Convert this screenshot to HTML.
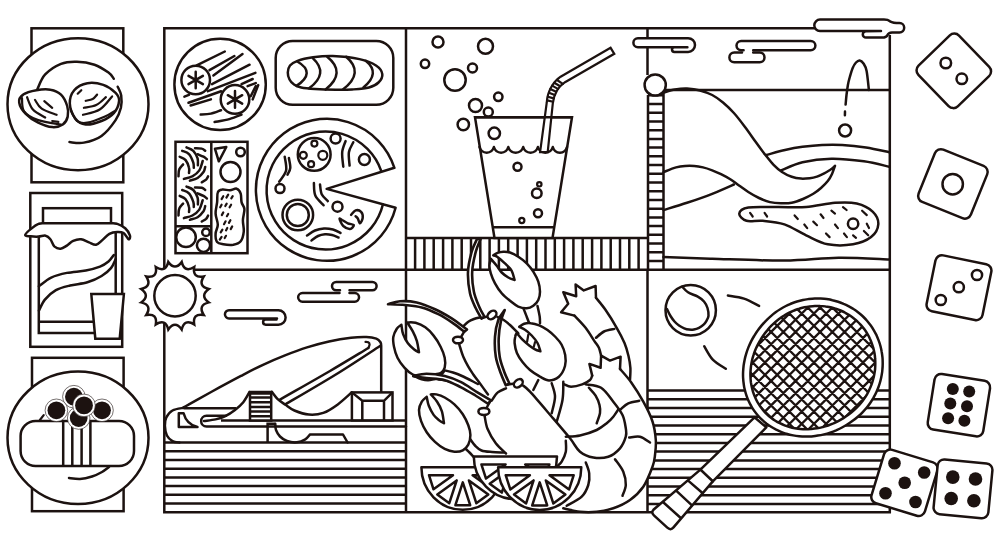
<!DOCTYPE html>
<html>
<head>
<meta charset="utf-8">
<title>Line art</title>
<style>
html,body{margin:0;padding:0;background:#fff;font-family:"Liberation Sans",sans-serif;}
svg{display:block;}
.s{fill:none;stroke:#1c1210;stroke-width:2.5;stroke-linecap:round;stroke-linejoin:round;}
.m{fill:none;stroke:#1c1210;stroke-width:2.5;stroke-linecap:butt;stroke-linejoin:miter;}
.t{fill:none;stroke:#1c1210;stroke-width:2.2;stroke-linecap:round;stroke-linejoin:round;}
.w{fill:#fff;stroke:#1c1210;stroke-width:2.5;stroke-linecap:round;stroke-linejoin:round;}
.wm{fill:#fff;stroke:#1c1210;stroke-width:2.5;stroke-linecap:butt;stroke-linejoin:miter;}
.wt{fill:#fff;stroke:#1c1210;stroke-width:2.6;stroke-linecap:round;stroke-linejoin:round;}
.k{fill:#1c1210;stroke:none;}
</style>
</head>
<body>
<svg width="1000" height="540" viewBox="0 0 1000 540">
<rect x="0" y="0" width="1000" height="540" fill="#fff"/>
<!-- left plate 1 : clams -->
<g id="plate1">
<rect class="wm" x="31.5" y="28.3" width="91.8" height="154"/>
<ellipse class="w" cx="78" cy="104.2" rx="70.5" ry="66"/>
<path class="s" d="M37.3 89.3 C38.6 86.8 41.2 78.6 45.2 74.4 C49.2 70.1 55.8 65.9 61 63.8 C66.3 61.7 71.3 61.5 76.9 61.7 C82.4 61.8 89.2 62.9 94.5 64.7 C99.7 66.5 105.3 70.3 108.5 72.6 C111.8 74.9 112.9 77.7 113.8 78.8"/>
<path class="s" d="M69.5 142.1 C71.9 142.2 78.6 143.7 83.9 142.6 C89.2 141.6 96.2 139.7 101.5 135.9 C106.8 132.2 112.4 124.8 115.6 120.1 C118.8 115.4 119.9 111.9 120.9 107.8 C121.8 103.7 121.7 99 121.2 95.5 C120.7 92 118.3 88.1 117.7 86.7"/>
<path class="w" d="M19.2 102.5 C18.7 99.3 20.3 96.6 23.2 94.6 C26.1 92.5 31.8 91 36.4 90.2 C40.9 89.4 46.4 88.9 50.5 89.7 C54.6 90.4 58.2 91.9 61 94.6 C63.8 97.3 66.1 102.4 67.2 106 C68.3 109.7 68.4 113.5 67.7 116.6 C67 119.7 65.4 122.7 62.8 124.5 C60.2 126.3 56.3 127.4 52.2 127.1 C48.1 126.9 42.6 124.9 38.2 122.7 C33.8 120.5 29 117.3 25.8 113.9 C22.7 110.6 19.6 105.7 19.2 102.5Z"/>
<path class="t" d="M22 98.1 C22.3 100.3 21.4 107.6 24.1 111.3 C26.8 115 32 117.9 38.2 120.1 C44.3 122.3 57.2 123.8 61 124.5"/>
<path class="t" d="M27.1 97.2 C28 99.3 29.9 106.2 32.9 109.5 C35.9 112.9 43.1 116.1 45.2 117.5"/>
<path class="t" d="M35 99.9 C36.1 101.3 38.1 106.2 41.7 108.7 C45.3 111.2 54.1 113.8 56.6 114.8"/>
<path class="t" d="M44.3 101.1 L52.2 107.8"/>
<path class="t" d="M52.2 121 L58.4 121.9"/>
<path class="w" d="M69.8 103.4 C69.7 98.7 71.3 93.6 74.2 90.2 C77.2 86.8 82.6 84 87.4 83.2 C92.3 82.3 98.6 83.3 103.3 84.9 C108 86.5 112.9 90.2 115.6 92.8 C118.2 95.5 119.4 97.4 119.1 100.8 C118.8 104.1 116.8 109.7 113.8 113.1 C110.9 116.4 106.2 119.1 101.5 121 C96.8 122.9 90.1 124.9 85.7 124.5 C81.3 124.1 77.7 121.9 75.1 118.3 C72.5 114.8 70 108.1 69.8 103.4Z"/>
<path class="t" d="M70.7 109.5 C71.7 111.5 74.1 118.8 76.9 121 C79.7 123.2 82.7 123.5 87.4 122.7 C92.1 122 100.3 118.6 105 116.6 C109.7 114.5 113.8 111.5 115.6 110.4"/>
<path class="t" d="M77.7 93.7 L81.3 90.2"/>
<path class="t" d="M85.7 100.8 C86.8 100.5 90.8 100 92.7 99 C94.6 98 96.4 95.3 97.1 94.6"/>
<path class="t" d="M83.9 107.8 C86 107.3 92.6 106.9 96.2 105.1 C99.9 103.4 104.3 98.6 105.9 97.2"/>
<path class="t" d="M83 114.8 C85.8 113.9 94.9 112.6 99.7 109.5 C104.6 106.5 110 98.6 112.1 96.4"/>
</g>
<!-- left jar -->
<g id="jar">
<rect class="wm" x="30.3" y="193" width="91.9" height="153.8"/>
<rect class="wm" x="43" y="208.2" width="68" height="16"/>
<path class="m" d="M38.8 232 V333 H96 M38.8 321.7 H93 M115.7 230 V294"/>
<path class="s" d="M38.9 286.2 C41 284.8 46.5 279.8 51.2 277.6 C55.9 275.4 61.1 274.1 66.9 272.9 C72.7 271.7 80.3 271.6 85.8 270.5 C91.3 269.4 96.2 268.1 100 266.6 C103.8 265.1 106.2 263.4 108.5 261.5 C110.8 259.6 112.9 256.1 113.8 255"/>
<path class="s" d="M38.9 310.6 C39.9 308.8 42.1 303 44.9 299.6 C47.7 296.2 51.7 292.6 55.9 290.2 C60.1 287.8 64.8 286.8 70.1 285.5 C75.3 284.2 82.2 283.9 87.4 282.3 C92.7 280.7 97.7 278.4 101.6 276 C105.5 273.6 108.7 270.9 111 268.1 C113.3 265.3 114.9 260.5 115.7 259"/>
<path class="w" d="M25.2 235 C25.2 233.8 28.5 230.9 30.7 229.1 C33 227.2 36 224.8 38.6 223.9 C41.2 222.9 39.9 223.3 46.5 223.2 C53 223.1 67.5 223.2 78 223.2 C88.4 223.2 102.9 223.1 109.4 223.2 C116 223.3 114.7 223 117.3 223.9 C119.9 224.7 123.1 226.4 125.2 228.3 C127.3 230.2 129.3 233.5 129.9 235.4 C130.5 237.2 129.7 239.7 128.6 239.3 C127.6 238.9 125.5 234.2 123.6 233 C121.7 231.8 119.7 231.8 117.3 231.9 C114.9 232 111.9 232.4 109.4 233.8 C106.9 235.2 104.6 238.2 102.3 240.1 C100.1 241.9 98.3 244.4 96.1 244.8 C93.8 245.2 91.5 243.4 89 242.4 C86.5 241.5 83.7 239.6 81.1 239.3 C78.5 239 75.6 239.8 73.2 240.9 C70.9 241.9 69 244.3 66.9 245.6 C64.8 246.9 62.7 248.6 60.6 248.7 C58.5 248.9 56.1 248 54.3 246.4 C52.6 244.8 51.9 241.1 50.4 239.3 C49 237.5 47.7 236.1 45.7 235.7 C43.7 235.2 41.1 236.5 38.6 236.6 C36.1 236.7 33 236.6 30.7 236.3 C28.5 236 25.2 236.3 25.2 235Z"/>
<path class="wm" d="M91.3 294.1 H123.9 L119.7 338.7 H95.3 Z"/>
</g>
<!-- left plate 3 : sushi -->
<g id="plate3">
<rect class="wm" x="32" y="357.8" width="91.6" height="153.4"/>
<ellipse class="w" cx="78" cy="437.8" rx="70.5" ry="66.2"/>
<rect class="w" x="20.6" y="421" width="113.4" height="45" rx="15" ry="15"/>
<path class="m" d="M63.2 421 V466 M72.3 421 V466 M81.6 421 V466 M90.4 421 V466"/>
<path class="t" d="M39.9 420 L43.7 415.1"/>
<path class="s" d="M69 478 C70.8 478.2 76.2 479.2 80 479 C83.8 478.8 88.3 477.7 92 476.5 C95.7 475.3 99.2 473.6 102 472 C104.8 470.4 107.8 467.8 109 467"/>
<circle cx="73.9" cy="396.7" r="11.3" fill="#fff" stroke="#1c1210" stroke-width="0.6"/>
<circle class="k" cx="73.9" cy="396.7" r="8.9"/>
<circle cx="78.7" cy="418" r="11.3" fill="#fff" stroke="#1c1210" stroke-width="0.6"/>
<circle class="k" cx="78.7" cy="418" r="8.9"/>
<circle cx="102" cy="410.3" r="11.3" fill="#fff" stroke="#1c1210" stroke-width="0.6"/>
<circle class="k" cx="102" cy="410.3" r="8.9"/>
<circle cx="56.4" cy="410.3" r="11.3" fill="#fff" stroke="#1c1210" stroke-width="0.6"/>
<circle class="k" cx="56.4" cy="410.3" r="8.9"/>
<circle cx="84" cy="405.4" r="11.3" fill="#fff" stroke="#1c1210" stroke-width="0.6"/>
<circle class="k" cx="84" cy="405.4" r="8.9"/>
</g>
<!-- stripe fields -->
<g id="stripes">
<path class="m" d="M164.3 503.5 H406 M164.3 494.8 H406 M164.3 486.1 H406 M164.3 477.4 H406 M164.3 468.7 H406 M164.3 460 H406 M164.3 451.3 H406 M164.3 442.6 H406"/>
<path class="m" d="M647.5 390.6 H889.8 M647.5 399.3 H889.8 M647.5 408 H889.8 M647.5 416.8 H889.8 M647.5 425.5 H889.8 M647.5 434.2 H889.8 M647.5 442.9 H889.8 M647.5 451.6 H889.8 M647.5 460.4 H889.8 M647.5 469.1 H889.8 M647.5 477.8 H889.8 M647.5 486.5 H889.8 M647.5 495.2 H889.8 M647.5 504 H889.8"/>
<path class="m" d="M406 238 H648 M415.1 238 V269.7 M424.4 238 V269.7 M433.7 238 V269.7 M443.1 238 V269.7 M452.4 238 V269.7 M461.7 238 V269.7 M471 238 V269.7 M480.3 238 V269.7 M489.6 238 V269.7 M498.9 238 V269.7 M508.2 238 V269.7 M517.6 238 V269.7 M526.9 238 V269.7 M536.2 238 V269.7 M545.5 238 V269.7 M554.8 238 V269.7 M564.1 238 V269.7 M573.4 238 V269.7 M582.7 238 V269.7 M592.1 238 V269.7 M601.4 238 V269.7 M610.7 238 V269.7 M620 238 V269.7 M629.3 238 V269.7 M638.6 238 V269.7"/>
<path class="m" d="M648 95 V269.7 M663.5 93 V269.7 M648 261 H663.5 M648 252.3 H663.5 M648 243.5 H663.5 M648 234.8 H663.5 M648 226.1 H663.5 M648 217.4 H663.5 M648 208.7 H663.5 M648 199.9 H663.5 M648 191.2 H663.5 M648 182.5 H663.5 M648 173.8 H663.5 M648 165.1 H663.5 M648 156.3 H663.5 M648 147.6 H663.5 M648 138.9 H663.5 M648 130.2 H663.5 M648 121.5 H663.5 M648 112.7 H663.5 M648 104 H663.5 M648 95.3 H663.5"/>
<circle class="w" cx="655.2" cy="85" r="10.6"/>
</g>
<!-- main frame -->
<g id="frame">
<path class="m" d="M815 28.2 H164.3 V512.2 H889.8 V35"/>
<path class="m" d="M406 28.2 V512.2"/>
<path class="m" d="M195 269.7 H889.8"/>
<path class="m" d="M647.5 28.2 V75 M647.5 269.7 V512.2"/>
</g>
<!-- sun -->
<g id="sun">
<path class="wm" d="M168.3 261.9 Q175 271.2 181.7 261.9 Q184.4 273.1 194.2 267 Q192.3 278.4 203.7 276.5 Q197.6 286.3 208.8 289 Q199.5 295.7 208.8 302.4 Q197.6 305.1 203.7 314.9 Q192.3 313 194.2 324.4 Q184.4 318.3 181.7 329.5 Q175 320.2 168.3 329.5 Q165.6 318.3 155.8 324.4 Q157.7 313 146.3 314.9 Q152.4 305.1 141.2 302.4 Q150.5 295.7 141.2 289 Q152.4 286.3 146.3 276.5 Q157.7 278.4 155.8 267 Q165.6 273.1 168.3 261.9 Z" stroke-linejoin="miter"/>
<circle class="w" cx="175" cy="295.7" r="20.7"/>
</g>
<!-- top-left: cucumber plate -->
<g id="cuke">
<circle class="w" cx="220.1" cy="84.4" r="45.7"/>
<path class="s" d="M196.7 65.3 L224.8 51.5"/>
<path class="s" d="M209.5 70.2 L234.4 56"/>
<path class="s" d="M213.4 75.5 L242.5 54.1"/>
<path class="s" d="M212 84.1 L249.6 64.7"/>
<path class="s" d="M207.9 91.2 L255.4 72.9"/>
<path class="s" d="M184.4 96.7 L188.9 94.9"/>
<path class="s" d="M188.5 102.8 L221.1 91.2"/>
<path class="s" d="M190.6 105.5 L210.9 99.4"/>
<path class="s" d="M241.5 84.1 L252.7 79"/>
<path class="s" d="M247.6 86.1 L255.8 83.1"/>
<path class="s" d="M250.7 96.3 L255.8 86.1"/>
<path class="s" d="M252.7 99.4 L258.2 85.1"/>
<path class="s" d="M200.7 114.6 C202.4 114.5 207.5 114.4 210.9 113.6 C214.3 112.9 219.4 110.7 221.1 110.2"/>
<path class="s" d="M214.6 122 C217 121.5 224.8 120.4 229.3 119.1 C233.8 117.9 239.5 115.4 241.5 114.6"/>
<circle class="w" cx="195.7" cy="80" r="14.3"/>
<path class="s" d="M195.7 88.3 L195.7 71.7 M188.5 84.2 L202.9 75.8 M188.5 75.8 L202.9 84.2"/>
<circle class="w" cx="235" cy="99.4" r="14.3"/>
<path class="s" d="M235 107.7 L235 91.1 M227.8 103.6 L242.2 95.2 M227.8 95.2 L242.2 103.6"/>
</g>
<!-- top-left: bread -->
<g id="bread">
<rect class="w" x="275.7" y="41" width="117.6" height="63.8" rx="17" ry="17"/>
<path class="w" d="M287.8 72.5 C287.9 70.2 288.4 67.5 290 65.5 C291.6 63.5 293.7 62.2 297.5 60.8 C301.3 59.4 307.1 58.1 313 57.3 C318.9 56.5 324.9 55.7 332.7 56 C340.4 56.3 352.3 57.5 359.5 59.1 C366.7 60.7 372.2 63 376 65.5 C379.8 68 381.9 71.3 382.3 74.1 C382.7 76.9 380.7 80.3 378.5 82.5 C376.3 84.7 373.4 86.3 369 87.5 C364.6 88.7 357.5 89.1 352 89.5 C346.5 89.9 342 89.9 335.8 89.8 C329.6 89.7 320.8 89.4 315 89 C309.2 88.6 304.7 88.2 301.2 87.5 C297.7 86.8 295.9 85.8 294 84.5 C292.1 83.2 290.5 81.5 289.5 79.5 C288.5 77.5 287.7 74.8 287.8 72.5Z"/>
<path class="s" d="M297.3 61.5 Q316.5 72.5 296.5 85.9"/>
<path class="s" d="M313 58.3 Q329.2 73.3 309.1 88.3"/>
<path class="s" d="M327.2 56.8 Q346.8 72.5 325.6 89.5"/>
<path class="s" d="M346.1 56.8 Q364.9 72.5 342.9 89.5"/>
<path class="s" d="M365.8 60.7 Q381 73.3 363.4 87.5"/>
</g>
<!-- top-left: bento -->
<g id="bento">
<rect class="wm" x="175.5" y="141.8" width="72" height="111.4"/>
<path class="m" d="M211.3 141.8 V253.2 M175.5 226.3 H211.3"/>
<circle class="s" cx="186" cy="237.3" r="9.8"/>
<circle class="s" cx="206" cy="232.3" r="3.8"/>
<circle class="s" cx="203.5" cy="245.3" r="6.6"/>
<path class="s" d="M215 148.8 L226.3 147 L218.8 161.3 Z"/>
<circle class="s" cx="240.5" cy="152" r="4.3"/>
<circle class="s" cx="230.5" cy="172" r="10"/>
<path class="s" d="M217.8 192.4 C218.6 190.3 220.2 189.9 222.2 189.6 C224.3 189.2 227.6 190.4 230 190.2 C232.4 190.1 234.9 188.1 236.7 188.7 C238.4 189.2 239.9 191.3 240.7 193.6 C241.5 195.9 240.9 199.9 241.6 202.4 C242.2 205 244.2 206.1 244.4 209.1 C244.7 212.1 243 216.5 242.9 220.2 C242.8 223.9 244.1 227.8 243.8 231.3 C243.4 234.9 242.4 239.1 240.7 241.3 C238.9 243.6 236.2 244.2 233.3 244.7 C230.4 245.1 226 244.7 223.3 244.2 C220.6 243.8 218.4 243.8 217.1 242 C215.8 240.2 215.4 236.4 215.6 233.6 C215.7 230.7 217.8 228 217.8 224.7 C217.8 221.3 215.7 217.3 215.6 213.6 C215.4 209.9 216.7 206 217.1 202.4 C217.5 198.9 216.9 194.6 217.8 192.4Z"/>
<path class="t" d="M223.3 196.2 L221.6 199.1"/>
<path class="t" d="M228.2 194.7 L226.4 197.6"/>
<path class="t" d="M232.7 196.2 L231.3 198.4"/>
<path class="t" d="M221.6 204.7 L220.2 207.3"/>
<path class="t" d="M226.7 203.6 L225.3 206"/>
<path class="t" d="M231.1 204.7 L229.6 207.3"/>
<path class="t" d="M223.3 212.4 L221.8 215.1"/>
<path class="t" d="M228.2 214 L226.9 216.2"/>
<path class="t" d="M225.6 221.3 L224 224.2"/>
<path class="t" d="M230.4 220.2 L228.9 222.9"/>
<path class="t" d="M222.4 229.6 L220.7 232.4"/>
<path class="t" d="M227.3 228 L226 230.4"/>
<path class="t" d="M232.2 226.4 L230.7 229.1"/>
<path class="t" d="M221.6 236.9 L219.8 239.6"/>
<path class="t" d="M226 235.8 L224.7 238"/>
<path class="s" d="M182.2 150.8 C183.4 151.3 187.2 152.2 189 154.2 C190.9 156.2 192.5 160.4 193.3 162.7 C194.1 165 193.7 167 193.8 167.8"/>
<path class="s" d="M186.5 147.4 C187.6 147.9 191.4 148.9 193.3 150.8 C195.1 152.6 196.8 156 197.6 158.4 C198.3 160.9 197.8 164.1 197.9 165.3"/>
<path class="s" d="M195 148.2 C196.1 148.3 200.1 148.1 201.8 148.6 C203.5 149 204.7 150.4 205.2 150.8"/>
<path class="s" d="M179.7 156.7 C180.7 157.3 184.1 158.3 185.6 160.1 C187.2 162 188.5 165.7 189 167.8 C189.6 169.9 189 172.1 189 172.9"/>
<path class="s" d="M197.6 154.2 C198.5 154.6 202 155.9 203.5 156.7 C205.1 157.6 206.4 158.9 206.9 159.3"/>
<path class="s" d="M178.5 176.3 C178.6 175.2 178.4 171.5 179.2 169.5 C179.9 167.5 182.4 165.3 183.1 164.4"/>
<path class="s" d="M183.9 178.9 C185.3 178.5 189.9 177.8 192.4 176.3 C195 174.9 197.6 172.9 199.3 170.4 C201 167.8 202.1 162.6 202.7 161"/>
<path class="s" d="M189.9 180.6 C191.2 180.2 195.3 179.5 197.6 178 C199.8 176.6 202.2 173.9 203.5 172.1 C204.8 170.2 204.9 167.8 205.2 167"/>
<path class="s" d="M201.8 182.3 C202.5 181.9 205 180.7 206.1 179.7 C207.1 178.7 207.8 176.9 208.1 176.3"/>
<path class="s" d="M182.2 190 C183.4 190.5 187.2 191.4 189 193.4 C190.9 195.4 192.5 199.6 193.3 201.9 C194.1 204.2 193.7 206.1 193.8 207"/>
<path class="s" d="M186.5 186.6 C187.6 187.1 191.4 188.1 193.3 190 C195.1 191.8 196.8 195.2 197.6 197.6 C198.3 200 197.8 203.3 197.9 204.4"/>
<path class="s" d="M195 187.4 C196.1 187.5 200.1 187.3 201.8 187.7 C203.5 188.2 204.7 189.6 205.2 190"/>
<path class="s" d="M179.7 195.9 C180.7 196.5 184.1 197.5 185.6 199.3 C187.2 201.2 188.5 204.9 189 207 C189.6 209.1 189 211.3 189 212.1"/>
<path class="s" d="M197.6 193.4 C198.5 193.8 202 195.1 203.5 195.9 C205.1 196.8 206.4 198.1 206.9 198.5"/>
<path class="s" d="M178.5 215.5 C178.6 214.4 178.4 210.7 179.2 208.7 C179.9 206.7 182.4 204.4 183.1 203.6"/>
<path class="s" d="M183.9 218.1 C185.3 217.6 189.9 216.9 192.4 215.5 C195 214.1 197.6 212.1 199.3 209.6 C201 207 202.1 201.7 202.7 200.2"/>
<path class="s" d="M189.9 219.8 C191.2 219.3 195.3 218.6 197.6 217.2 C199.8 215.8 202.2 213.1 203.5 211.3 C204.8 209.4 204.9 207 205.2 206.1"/>
<path class="s" d="M201.8 221.5 C202.5 221 205 219.9 206.1 218.9 C207.1 217.9 207.8 216.1 208.1 215.5"/>
</g>
<!-- top-left: pizza -->
<g id="pizza">
<path class="w" d="M326.7 188.9 L394.4 167.8 A71 71 0 1 0 395.6 207.8 Z"/>
<path class="s" d="M381.3 171.1 A59 59 0 1 0 382.9 204.5"/>
<circle class="s" cx="314.2" cy="154.4" r="16.4"/>
<circle class="t" cx="314.4" cy="143.6" r="3"/>
<circle class="t" cx="303.3" cy="155.3" r="3.5"/>
<circle class="t" cx="322.8" cy="155.3" r="4.5"/>
<circle class="t" cx="311.1" cy="164.2" r="3"/>
<circle class="s" cx="335.6" cy="138.6" r="5"/>
<circle class="s" cx="364.4" cy="159.4" r="5.5"/>
<circle class="s" cx="280" cy="188.6" r="4.5"/>
<circle class="s" cx="337.5" cy="206.7" r="5"/>
<circle class="s" cx="297.8" cy="215" r="15.3"/>
<circle class="s" cx="297.8" cy="215" r="11"/>
<path class="s" d="M345.6 141.1 C345 142.9 342.6 147.9 342.2 152.2 C341.8 156.5 343.1 164.3 343.3 166.7"/>
<path class="s" d="M353.3 142.2 C352.6 143.9 349.5 148.3 348.9 152.2 C348.3 156.1 349.5 163.4 349.6 165.6"/>
<path class="s" d="M284.7 156.7 C284.9 159 287 166.4 286.1 170.6 C285.2 174.8 280.4 179.8 279.2 181.7"/>
<path class="s" d="M288.9 158 C289.1 159.6 290.5 165 290.3 167.8 C290.1 170.6 288 173.5 287.5 174.7"/>
<path class="s" d="M313.9 183 C314.1 185.1 313.7 191.9 315.3 195.6 C316.9 199.3 322.2 203.7 323.6 205.3"/>
<path class="s" d="M320 184.4 C320.3 186 320.4 191.4 321.7 194.2 C323 197 326.8 199.9 327.8 201.1"/>
<path class="s" d="M307 235.5 C308.3 234.7 312.2 231.7 315 230.5 C317.8 229.3 321 228.7 324 228.5 C327 228.3 330.2 228.8 333 229.5 C335.8 230.2 339.2 232.4 340.5 233"/>
<path class="s" d="M311.5 240.5 C312.6 239.8 315.8 237 318 236 C320.2 235 322.7 234.5 325 234.3 C327.3 234.1 329.8 234.5 332 235 C334.2 235.5 337.4 237.1 338.5 237.5"/>
<path class="s" d="M351.1 214.9 C351.9 214.1 353.9 211 355.6 210.4 C357.2 209.9 359.9 210.6 361.1 211.8 C362.3 213 362.9 215.9 362.7 217.8 C362.5 219.7 360.8 223.2 360 223.3 C359.2 223.4 358.5 219.6 357.8 218.4 C357 217.3 355.9 216.6 355.6 216.2"/>
<path class="s" d="M339.6 218.9 C339.7 219.9 341.6 224.3 343.3 226 C345.1 227.7 348.3 229 350 228.9 C351.7 228.7 354.1 226 353.8 225.1 C353.4 224.2 349.7 224.2 347.8 223.3 C345.9 222.5 343.6 220.7 342.2 220 C340.9 219.3 339.4 217.9 339.6 218.9Z"/>
</g>
<!-- bottom-left: building -->
<g id="building">
<path class="s" d="M183.6 407.4 C185.8 406.1 191.1 403.1 197 399.8 C202.9 396.5 211.7 391.7 219 387.7 C226.3 383.7 233.7 379.7 241 375.9 C248.3 372.1 255.7 368.2 263 364.8 C270.3 361.4 277.7 358.3 285 355.4 C292.3 352.5 299.7 349.7 307 347.4 C314.3 345.1 321.7 343.1 329 341.5 C336.3 339.9 344.8 338.5 351 337.8 C357.2 337.1 362.2 337 366.4 337.1 C370.6 337.2 373.9 337.8 376.3 338.6 C378.7 339.5 379.7 341 380.5 342.2 C381.3 343.4 381.1 345.4 381.2 346 L381.2 392.4"/>
<path class="t" d="M365.5 341.9 C365.9 341.9 367.5 341.8 368.2 342.2 C368.9 342.6 369.6 343.5 369.6 344.5 C369.6 345.5 368.6 347.4 368.4 348"/>
<path class="s" d="M368.4 348 C362 351.8 344.7 362.4 330 371 C315.3 379.6 288.3 394.8 280 399.6"/>
<path class="s" d="M380 346 C372.5 350.8 350.8 365.3 335 375 C319.2 384.7 293.8 399.4 285.5 404.3"/>
<path class="s" d="M271.8 391.8 C272.8 393.1 275.7 397.2 278 399.4 C280.3 401.6 282.8 402.9 285.5 404.8 C288.2 406.7 290.5 408.9 294.4 410.5 C298.3 412.1 304.1 414.2 308.9 414.6 C313.7 415 318.5 414.6 323.3 412.9 C328.1 411.2 333.1 407.8 337.8 404.4 C342.5 401 349.4 394.4 351.7 392.4"/>
<path class="s" d="M183.6 407.8 C181.8 408.2 175.4 408.9 172.5 410.5 C169.6 412.1 167.6 414.9 166.3 417.5 C165 420.1 164.8 422.8 164.9 425.8 C165 428.8 165.6 432.9 166.9 435.5 C168.2 438.1 170.4 439.9 172.5 441.1 C174.6 442.3 178.2 442.3 179.4 442.5"/>
<path class="m" d="M183.6 408.3 H236"/>
<path class="s" d="M183.6 413.3 H178.8 V427 H197.5 Q186.5 424.5 183.6 413.3 Z"/>
<path class="s" d="M249.5 392 C248.5 393.7 245.7 399.2 243.3 402.2 C240.9 405.2 238 407.6 235 409.9 C232 412.2 228.5 414.5 225.3 416.1 C222.1 417.7 219.2 418.6 215.6 419.4 C212 420.2 205.9 420.7 204 421"/>
<path class="s" d="M226 415.8 H206.5 A5.35 5.35 0 0 0 206.5 426.5 H406"/>
<path class="m" d="M221 420.5 H406"/>
<rect class="wm" x="250" y="392" width="21.2" height="28.5"/>
<path class="m" d="M250 393.6 H271.2 M250 397.6 H271.2 M250 402.2 H271.2 M250 407 H271.2 M250 411.6 H271.2 M250 416.2 H271.2"/>
<rect class="wm" x="351.9" y="392.4" width="40.6" height="28"/>
<path class="m" d="M351.9 392.4 L362.3 400.8 H384 L392.5 392.4 M362.3 400.8 V420.4 M384 400.8 V420.4"/>
<path class="m" d="M267.6 442.5 V423.8 H275.3"/>
<path class="s" d="M275.3 423.8 C275.4 424.8 275.2 427.9 276 430 C276.8 432.1 278.2 434.7 280 436.5 C281.8 438.3 284.2 440 287 441 C289.8 442 293.8 442.6 296.9 442.3 C299.9 442 303.1 440.6 305.3 439.3 C307.5 438 309.2 435.3 310 434.5 L343 434.5 L347.6 442.5"/>
</g>
<!-- bottom-left: clouds -->
<g id="blclouds">
<path class="s" d="M277 318.4 H229 A4.05 4.05 0 0 1 229 310.3 H278.4 A7.2 7.2 0 0 1 278.4 324.7 H265.7 A2.6 2.6 0 0 1 265.7 319.5 H276.5"/>
<path class="s" d="M340 290.3 H336.2 A4.2 4.2 0 0 1 336.2 281.9 H372.4 A4.2 4.2 0 0 1 372.4 290.3 H349.5"/>
<path class="s" d="M339.5 293 H302.5 A4.35 4.35 0 0 0 302.5 301.7 H354.7 A4.35 4.35 0 0 0 354.7 293 H349.5"/>
</g>
<!-- top-middle: drink -->
<g id="drink">
<circle class="s" cx="438" cy="42" r="5.5"/>
<circle class="s" cx="485.5" cy="46.3" r="7.5"/>
<circle class="s" cx="425" cy="63.8" r="4.2"/>
<circle class="s" cx="472.5" cy="68" r="4.5"/>
<circle class="s" cx="455" cy="80" r="10.7"/>
<circle class="s" cx="498.3" cy="96.8" r="4.2"/>
<circle class="s" cx="475.5" cy="105.5" r="6.5"/>
<circle class="s" cx="488.3" cy="112" r="4.5"/>
<circle class="s" cx="463.3" cy="124.5" r="5.7"/>
<path class="wm" d="M475 117.3 H572 L552.5 238 H494.5 Z"/>
<path class="m" d="M493 227.2 H554.2"/>
<circle class="s" cx="494.3" cy="133.3" r="5.7"/>
<circle class="s" cx="517.5" cy="166.8" r="4"/>
<circle class="s" cx="536.8" cy="193.3" r="4.8"/>
<circle class="s" cx="538" cy="213.3" r="4"/>
<circle class="t" cx="539.3" cy="184.3" r="2.2"/>
<circle cx="521.8" cy="220.5" r="2.6" fill="none" stroke="#1c1210" stroke-width="2.2"/>
<path class="s" d="M479.5 147 C481.7 154.5 491.7 154.5 493.9 147 C496.1 154.5 506.1 154.5 508.3 147 C510.5 154.5 521 154.5 523.2 147 C525.4 154.5 535.7 154.5 537.9 147 C540.1 154.5 550.6 154.5 552.8 147 C554.9 154.5 564.9 154.5 567 147"/>
<path d="M610.6 47.8 L560.6 76.7 C553.5 81.5 547.5 91 546.8 102.2 L540.1 152.2 L547.7 152.2 L552.8 103.3 C554 94 558.5 86.5 565 82.2 L614.3 53.8 Z" fill="#fff" stroke="#1c1210" stroke-width="2.2" stroke-linejoin="miter"/>
<path class="m" d="M475 117.3 H572"/>
<path class="t" d="M552.1 85.6 L557.9 88.9"/>
<path class="t" d="M550.3 88.9 L556.1 91.8"/>
<path class="t" d="M549 92.7 L554.8 95.1"/>
<path class="t" d="M547.9 96.7 L553.7 98.4"/>
<path class="t" d="M547.2 100.4 L553 101.8"/>
<path class="t" d="M554.3 82.7 L560.1 86.2"/>
<path class="t" d="M557 80 L562.8 83.8"/>
</g>
<!-- top-right: dunes -->
<g id="dunes">
<path class="m" d="M664 90 H889.8"/>
<path class="s" d="M766 155 C769.2 154.2 778.9 151.4 785 150 C791.1 148.6 796.3 147.6 802.5 146.8 C808.7 146 815.4 145.3 822 145 C828.6 144.7 834.9 144.6 842.2 145 C849.5 145.4 858.2 146.3 866 147.5 C873.8 148.7 885.3 151.4 889.2 152.2"/>
<path class="s" d="M781 170.5 C784.6 169.1 794.1 164.3 802.5 162.3 C810.9 160.3 821.2 158.9 831.4 158.7 C841.6 158.5 854.3 160 863.9 161.3 C873.5 162.6 885 165.8 889.2 166.7"/>
<path class="s" d="M663.5 210 C667.4 208.8 678.9 205.5 687 202.8 C695.1 200.1 704.4 196.9 712.2 193.8 C720 190.8 730.3 186.1 733.9 184.5"/>
<path class="s" d="M663.5 257 C671.6 257.3 692.1 258.2 712.2 258.8 C732.4 259.4 763.3 260.8 784.4 260.6 C805.5 260.4 821.1 257.9 838.6 257.7 C856.1 257.5 880.8 259.2 889.2 259.5"/>
<path class="s" d="M663.5 92.6 C665.4 92.1 671.1 90.3 675 89.6 C678.9 88.9 682.8 88.4 687 88.6 C691.2 88.8 695.8 89.4 700 90.5 C704.2 91.6 708.4 93 712.2 95 C716 97 719.4 99.5 723 102.5 C726.6 105.5 730.2 108.9 733.9 113 C737.6 117.1 741.4 122.2 745 127 C748.6 131.8 752.3 137.2 755.6 141.8 C758.9 146.4 762 150.7 765 154.5 C768 158.3 770.8 162 773.6 164.9 C776.4 167.8 779 170 782 172 C785 174 788.5 175.7 791.7 176.8 C794.9 177.9 798 178.4 801 178.6 C804 178.8 807 178.5 809.7 178.2 C812.4 177.9 814.6 177.4 817 176.6 C819.4 175.8 822 174.5 824.2 173.4 C826.4 172.3 829 170.6 830 170 Q833 168.2 835 165.8 L835 165.8 C834.5 167.2 833.2 171.4 832 174 C830.8 176.6 829.6 178.8 827.8 181.1 C826 183.4 823.4 185.9 821 188 C818.6 190.1 816.3 192 813.3 193.8 C810.3 195.6 806.6 197.5 803 199 C799.4 200.5 795.4 202.1 791.7 202.8 C788 203.5 784.6 203.4 781 203.3 C777.4 203.2 773.7 203 770 202.1 C766.3 201.2 762.6 199.7 759 198 C755.4 196.3 751.6 194.1 748.3 192 C745 189.9 742 187.6 739 185.5 C736 183.4 733.3 181.2 730.3 179.3 C727.3 177.4 724 175.7 721 174.2 C718 172.7 715.2 171.4 712.2 170.3 C709.2 169.2 706 168.1 703 167.4 C700 166.7 697.2 166.2 694.2 166 C691.2 165.8 688 165.8 685 166 C682 166.2 679.7 166.4 676.1 167.4 C672.5 168.4 665.6 171.3 663.5 172.1"/>
<path class="w" d="M739.3 213.6 C739.6 211.4 742 208.6 748.3 207.5 C754.6 206.4 767.6 207.2 777.2 207.1 C786.8 207 796.5 207.8 806.1 207.1 C815.7 206.4 826.6 203.4 835 202.8 C843.4 202.2 850.4 202 856.7 203.5 C863 205 869.3 208.3 872.9 211.8 C876.5 215.3 878.6 220.2 878.3 224.4 C878 228.6 875.3 233.8 871.1 237.1 C866.9 240.4 860.3 243.1 853.1 244.3 C845.9 245.5 835.6 245.8 827.8 244.3 C820 242.8 813.3 238.6 806.1 235.3 C798.9 232 791.6 226.8 784.4 224.4 C777.2 222 769.1 221.4 762.8 220.8 C756.5 220.2 750.4 222 746.5 220.8 C742.6 219.6 739 215.8 739.3 213.6Z"/>
<circle class="s" cx="853.1" cy="223.7" r="5.2"/>
<path class="t" d="M750.1 212.9 L752.7 216.5"/>
<path class="t" d="M764.6 212.9 L767.1 216.5"/>
<path class="t" d="M794.6 215.4 L797.8 219"/>
<path class="t" d="M804.3 224.5 L807.2 228.1"/>
<path class="t" d="M813.3 221.6 L817 225.2"/>
<path class="t" d="M820.6 214.3 L823.5 218"/>
<path class="t" d="M831.4 210.7 L835 213.6"/>
<path class="t" d="M843 207.1 L846.6 210"/>
<path class="t" d="M862.1 210.7 L866.8 215.1"/>
<path class="t" d="M835 224.5 L837.9 228.1"/>
<path class="t" d="M826 233.5 L829.6 237.1"/>
<path class="t" d="M844 233.5 L846.9 237.1"/>
<path class="t" d="M853.1 235.3 L856 237.8"/>
<path class="t" d="M863.9 231 L868.2 235.3"/>
<path class="t" d="M866.8 223.7 L869 228.1"/>
<path class="s" d="M868.9 90 C868.5 86.8 867.5 75.4 866.6 71 C865.7 66.6 864.7 65.3 863.5 63.5 C862.3 61.7 860.9 60.6 859.6 60.4 C858.4 60.2 857.2 61.2 856 62.5 C854.8 63.8 853.6 65.8 852.6 68.2 C851.6 70.6 850.6 74.2 849.8 77 C849 79.8 848.4 82 847.9 85 C847.4 88 846.9 91.7 846.5 95 C846.1 98.3 845.8 103 845.6 104.6"/>
<path class="s" d="M845 111.6 L844.9 115.3"/>
<circle class="s" cx="845.1" cy="130.5" r="6"/>
</g>
<!-- top-right: clouds -->
<g id="trclouds">
<path class="w" d="M687.4 47.2 H637.9 A4.5 4.5 0 0 1 637.9 38.2 H688.1 A6.9 6.9 0 0 1 688.1 52 H674.4 A2.4 2.4 0 0 1 674.4 47.2 Z"/>
<path class="s" d="M743.6 50.3 H741.2 A4.7 4.7 0 0 1 741.2 40.9 H810.7 A4.7 4.7 0 0 1 810.7 50.3 H753.2"/>
<path class="s" d="M742 52.6 H734.2 A4.8 4.8 0 0 0 734.2 62.2 H759.7 A4.8 4.8 0 0 0 759.7 52.6 H753.2"/>
<path class="w" d="M881 31 H820 A5.6 5.6 0 0 1 820 19.6 H884 Q888 19.6 890 21.3 Q893 23 899.5 23 A4.7 4.7 0 0 1 899.5 32.4 H892 Q888.5 32.5 887.5 35 Q886.5 37.6 882 37.6 H866 A3.2 3.2 0 0 1 866 31.2 Z"/>
</g>
<!-- bottom-right: tennis -->
<g id="tennis">
<circle class="w" cx="690.7" cy="310.3" r="25.2"/>
<path class="s" d="M682.2 286.6 C683.2 287.6 685.4 290.6 688 292.3 C690.6 294 695.1 295.1 697.8 296.6 C700.5 298.1 702.4 299.6 704 301.5 C705.6 303.4 706.8 305.6 707.5 308 C708.2 310.4 708.7 313.8 708.5 315.9 C708.3 318 707.3 319.4 706.5 320.8 C705.7 322.2 704.9 323.4 703.6 324.6 C702.4 325.8 700.6 327 699 327.8 C697.4 328.6 695.6 329.2 693.9 329.5 C692.2 329.8 690.6 329.8 689 329.6 C687.4 329.4 685.9 329 684.2 328.3 C682.5 327.6 680.6 326.6 679 325.5 C677.4 324.4 675.9 323.1 674.5 321.5 C673.1 319.9 671.8 318.1 670.5 316 C669.2 313.9 667.6 310.2 667 309"/>
<path class="s" d="M727.9 295.5 C730.6 296 738.8 296.9 744 298.6 C749.2 300.3 756.6 304.7 759.1 305.9"/>
<path class="s" d="M704.2 346.2 C705.6 348.4 709.2 355.9 712.8 359.7 C716.4 363.5 723.6 367.3 725.8 368.8"/>
<path class="w" d="M754.5 417.3 L766.3 427.4 L712.8 481.4 L700.4 469.6 Z"/>
<path class="w" d="M700.4 469.6 L712.8 481.4 L673.5 527.4 Q670.6 530.8 667.3 527.7 L653.9 515.3 Q650.6 512.2 654 509.3 Z"/>
<path class="s" d="M663.5 502.5 L680.2 517.5"/>
<path class="s" d="M676.7 491.1 L691.7 505.1"/>
<path class="s" d="M689 481.4 L702.2 492.8"/>
<path class="w" d="M757.9 415.5 C756.6 414 755.4 412.5 754.3 410.9 C753.2 409.4 752.1 407.7 751.2 406 C750.2 404.4 749.3 402.6 748.5 400.8 C747.7 399.1 747 397.2 746.4 395.4 C745.8 393.5 745.2 391.6 744.8 389.7 C744.3 387.8 743.9 385.8 743.7 383.8 C743.4 381.8 743.2 379.8 743.1 377.8 C743 375.8 743 373.8 743.1 371.7 C743.2 369.7 743.4 367.6 743.6 365.6 C743.9 363.6 744.3 361.5 744.7 359.5 C745.1 357.4 745.7 355.4 746.3 353.4 C746.9 351.4 747.6 349.4 748.4 347.4 C749.2 345.5 750.1 343.5 751 341.6 C752 339.7 753 337.8 754.1 336 C755.3 334.1 756.4 332.3 757.7 330.6 C759 328.8 760.3 327.1 761.7 325.4 C763.1 323.8 764.6 322.1 766.1 320.6 C767.6 319 769.3 317.5 770.9 316.1 C772.5 314.7 774 313.5 775.6 312.3 C777.2 311.1 778.9 310 780.6 309 C782.4 307.9 784.1 306.9 785.9 306 C787.7 305.1 789.6 304.3 791.4 303.5 C793.3 302.8 795.2 302.1 797.1 301.5 C799 301 801 300.5 802.9 300 C804.9 299.6 806.9 299.3 808.8 299 C810.8 298.8 812.8 298.6 814.8 298.5 C816.8 298.5 818.8 298.5 820.7 298.6 C822.7 298.7 824.7 298.8 826.6 299.1 C828.6 299.4 830.5 299.7 832.4 300.2 C834.4 300.6 836.3 301.1 838.1 301.7 C840 302.3 841.8 303 843.6 303.8 C845.4 304.5 847.2 305.4 848.9 306.3 C850.6 307.2 852.3 308.2 853.9 309.3 C855.5 310.3 857.1 311.5 858.6 312.7 C860.1 313.9 861.6 315.2 863 316.5 C864.3 317.8 865.7 319.2 867 320.7 C868.2 322.2 869.4 323.7 870.6 325.3 C871.7 326.8 872.7 328.4 873.7 330.1 C874.7 331.8 875.6 333.5 876.5 335.2 C877.3 337 878 338.8 878.7 340.6 C879.4 342.4 880 344.3 880.5 346.2 C881 348.1 881.4 350 881.7 351.9 C882.1 353.8 882.3 355.8 882.5 357.7 C882.7 359.7 882.7 361.7 882.7 363.6 C882.7 365.6 882.6 367.6 882.4 369.5 C882.3 371.5 882 373.5 881.6 375.4 C881.3 377.4 880.8 379.3 880.3 381.3 C879.8 383.2 879.2 385.1 878.5 387 C877.8 388.8 877.1 390.7 876.2 392.5 C875.4 394.3 874.4 396.1 873.4 397.9 C872.4 399.6 871.4 401.3 870.2 403 C869.1 404.6 867.9 406.3 866.6 407.8 C865.3 409.4 863.9 410.9 862.5 412.3 C861.1 413.8 859.7 415.1 858.1 416.5 C856.5 417.9 854.8 419.3 853 420.6 C851.3 421.9 849.5 423.1 847.6 424.3 C845.8 425.4 843.9 426.5 842 427.5 C840.1 428.5 838.1 429.4 836.1 430.3 C834.2 431.1 832.1 431.9 830.1 432.6 C828.1 433.3 826 433.9 824 434.4 C821.9 434.9 819.8 435.3 817.8 435.6 C815.7 436 813.6 436.2 811.5 436.4 C809.5 436.5 807.4 436.6 805.3 436.6 C803.3 436.6 801.2 436.5 799.2 436.3 C797.2 436.1 795.1 435.8 793.2 435.4 C791.2 435 789.2 434.6 787.3 434 C785.4 433.5 783.5 432.8 781.6 432.1 C779.8 431.4 778 430.6 776.2 429.7 C774.5 428.8 772.8 427.9 771.1 426.8 C769.5 425.8 767.9 424.7 766.3 423.5 C764.8 422.3 763.3 421 761.9 419.7 C760.5 418.4 759.2 417 757.9 415.5Z"/>
<clipPath id="mesh"><path d="M763.5 410.6 C762.4 409.4 761.3 408 760.3 406.6 C759.3 405.2 758.4 403.7 757.5 402.2 C756.7 400.7 755.9 399.2 755.2 397.6 C754.5 396 753.8 394.4 753.3 392.7 C752.7 391.1 752.3 389.4 751.9 387.6 C751.5 385.9 751.2 384.2 750.9 382.4 C750.7 380.6 750.5 378.8 750.5 377 C750.4 375.2 750.4 373.4 750.5 371.6 C750.6 369.8 750.8 367.9 751 366.1 C751.3 364.3 751.6 362.5 752 360.6 C752.4 358.8 752.9 357 753.5 355.2 C754 353.4 754.7 351.6 755.4 349.8 C756.1 348.1 756.9 346.3 757.8 344.6 C758.7 342.9 759.6 341.2 760.6 339.6 C761.6 337.9 762.7 336.3 763.8 334.7 C765 333.1 766.2 331.6 767.5 330.1 C768.7 328.6 770 327.1 771.4 325.7 C772.8 324.3 774.3 322.9 775.7 321.7 C777.1 320.5 778.5 319.4 780 318.3 C781.4 317.2 782.9 316.2 784.5 315.3 C786 314.4 787.6 313.5 789.2 312.7 C790.8 311.9 792.4 311.1 794.1 310.5 C795.8 309.8 797.5 309.2 799.2 308.7 C800.9 308.1 802.6 307.7 804.4 307.3 C806.1 306.9 807.9 306.6 809.6 306.4 C811.4 306.2 813.2 306 814.9 305.9 C816.7 305.9 818.5 305.9 820.2 306 C822 306 823.7 306.2 825.5 306.4 C827.2 306.7 828.9 307 830.7 307.3 C832.4 307.7 834 308.2 835.7 308.7 C837.4 309.2 839 309.9 840.6 310.5 C842.2 311.2 843.8 311.9 845.3 312.8 C846.8 313.6 848.3 314.5 849.7 315.4 C851.2 316.3 852.6 317.4 853.9 318.4 C855.3 319.5 856.6 320.6 857.8 321.8 C859.1 323 860.2 324.3 861.4 325.6 C862.5 326.9 863.6 328.2 864.6 329.6 C865.6 331 866.5 332.4 867.4 333.9 C868.3 335.4 869.1 336.9 869.8 338.5 C870.5 340 871.2 341.6 871.8 343.3 C872.4 344.9 872.9 346.6 873.4 348.2 C873.8 349.9 874.2 351.6 874.5 353.3 C874.8 355 875 356.8 875.1 358.5 C875.3 360.3 875.3 362 875.3 363.8 C875.3 365.5 875.2 367.3 875.1 369 C874.9 370.8 874.6 372.5 874.3 374.3 C874 376 873.6 377.8 873.1 379.5 C872.7 381.2 872.1 382.9 871.5 384.6 C870.9 386.2 870.2 387.9 869.4 389.5 C868.7 391.1 867.9 392.7 867 394.3 C866.1 395.8 865.1 397.4 864.1 398.8 C863.1 400.3 862 401.8 860.8 403.2 C859.7 404.5 858.5 405.9 857.2 407.2 C856 408.5 854.7 409.7 853.3 410.9 C851.9 412.1 850.3 413.4 848.7 414.6 C847.1 415.8 845.5 416.9 843.8 417.9 C842.2 419 840.5 420 838.7 420.9 C837 421.8 835.3 422.6 833.5 423.4 C831.7 424.1 829.9 424.8 828.1 425.5 C826.3 426.1 824.4 426.6 822.6 427.1 C820.7 427.6 818.9 428 817 428.3 C815.1 428.6 813.3 428.8 811.4 429 C809.5 429.1 807.7 429.2 805.8 429.2 C804 429.2 802.2 429.1 800.3 428.9 C798.5 428.8 796.7 428.5 794.9 428.2 C793.2 427.9 791.4 427.5 789.7 427 C788 426.5 786.3 426 784.6 425.3 C783 424.7 781.4 424 779.8 423.2 C778.3 422.5 776.7 421.6 775.3 420.7 C773.8 419.8 772.4 418.8 771 417.7 C769.6 416.7 768.3 415.5 767.1 414.4 C765.8 413.2 764.6 411.9 763.5 410.6Z"/></clipPath>
<path d="M735 87.7 L895 247.7 M735 208.8 L895 48.8 M735 99.9 L895 259.9 M735 221 L895 61 M735 112.2 L895 272.2 M735 233.3 L895 73.3 M735 124.4 L895 284.4 M735 245.5 L895 85.5 M735 136.7 L895 296.7 M735 257.8 L895 97.8 M735 148.9 L895 308.9 M735 270 L895 110 M735 161.2 L895 321.2 M735 282.3 L895 122.3 M735 173.4 L895 333.4 M735 294.5 L895 134.5 M735 185.7 L895 345.7 M735 306.8 L895 146.8 M735 197.9 L895 357.9 M735 319 L895 159 M735 210.2 L895 370.2 M735 331.3 L895 171.3 M735 222.4 L895 382.4 M735 343.5 L895 183.5 M735 234.7 L895 394.7 M735 355.8 L895 195.8 M735 246.9 L895 406.9 M735 368 L895 208 M735 259.2 L895 419.2 M735 380.3 L895 220.3 M735 271.4 L895 431.4 M735 392.5 L895 232.5 M735 283.7 L895 443.7 M735 404.8 L895 244.8 M735 295.9 L895 455.9 M735 417 L895 257 M735 308.2 L895 468.2 M735 429.3 L895 269.3 M735 320.4 L895 480.4 M735 441.5 L895 281.5 M735 332.7 L895 492.7 M735 453.8 L895 293.8 M735 344.9 L895 504.9 M735 466 L895 306 M735 357.2 L895 517.2 M735 478.3 L895 318.3 M735 369.4 L895 529.4 M735 490.5 L895 330.5 M735 381.7 L895 541.7 M735 502.8 L895 342.8 M735 393.9 L895 553.9 M735 515 L895 355 M735 406.2 L895 566.2 M735 527.3 L895 367.3 M735 418.4 L895 578.4 M735 539.5 L895 379.5 M735 430.7 L895 590.7 M735 551.8 L895 391.8 M735 442.9 L895 602.9 M735 564 L895 404 M735 455.2 L895 615.2 M735 576.3 L895 416.3 M735 467.4 L895 627.4 M735 588.5 L895 428.5 M735 479.7 L895 639.7 M735 600.8 L895 440.8" fill="none" stroke="#1c1210" stroke-width="2.3" clip-path="url(#mesh)"/>
<path class="s" d="M763.5 410.6 C762.4 409.4 761.3 408 760.3 406.6 C759.3 405.2 758.4 403.7 757.5 402.2 C756.7 400.7 755.9 399.2 755.2 397.6 C754.5 396 753.8 394.4 753.3 392.7 C752.7 391.1 752.3 389.4 751.9 387.6 C751.5 385.9 751.2 384.2 750.9 382.4 C750.7 380.6 750.5 378.8 750.5 377 C750.4 375.2 750.4 373.4 750.5 371.6 C750.6 369.8 750.8 367.9 751 366.1 C751.3 364.3 751.6 362.5 752 360.6 C752.4 358.8 752.9 357 753.5 355.2 C754 353.4 754.7 351.6 755.4 349.8 C756.1 348.1 756.9 346.3 757.8 344.6 C758.7 342.9 759.6 341.2 760.6 339.6 C761.6 337.9 762.7 336.3 763.8 334.7 C765 333.1 766.2 331.6 767.5 330.1 C768.7 328.6 770 327.1 771.4 325.7 C772.8 324.3 774.3 322.9 775.7 321.7 C777.1 320.5 778.5 319.4 780 318.3 C781.4 317.2 782.9 316.2 784.5 315.3 C786 314.4 787.6 313.5 789.2 312.7 C790.8 311.9 792.4 311.1 794.1 310.5 C795.8 309.8 797.5 309.2 799.2 308.7 C800.9 308.1 802.6 307.7 804.4 307.3 C806.1 306.9 807.9 306.6 809.6 306.4 C811.4 306.2 813.2 306 814.9 305.9 C816.7 305.9 818.5 305.9 820.2 306 C822 306 823.7 306.2 825.5 306.4 C827.2 306.7 828.9 307 830.7 307.3 C832.4 307.7 834 308.2 835.7 308.7 C837.4 309.2 839 309.9 840.6 310.5 C842.2 311.2 843.8 311.9 845.3 312.8 C846.8 313.6 848.3 314.5 849.7 315.4 C851.2 316.3 852.6 317.4 853.9 318.4 C855.3 319.5 856.6 320.6 857.8 321.8 C859.1 323 860.2 324.3 861.4 325.6 C862.5 326.9 863.6 328.2 864.6 329.6 C865.6 331 866.5 332.4 867.4 333.9 C868.3 335.4 869.1 336.9 869.8 338.5 C870.5 340 871.2 341.6 871.8 343.3 C872.4 344.9 872.9 346.6 873.4 348.2 C873.8 349.9 874.2 351.6 874.5 353.3 C874.8 355 875 356.8 875.1 358.5 C875.3 360.3 875.3 362 875.3 363.8 C875.3 365.5 875.2 367.3 875.1 369 C874.9 370.8 874.6 372.5 874.3 374.3 C874 376 873.6 377.8 873.1 379.5 C872.7 381.2 872.1 382.9 871.5 384.6 C870.9 386.2 870.2 387.9 869.4 389.5 C868.7 391.1 867.9 392.7 867 394.3 C866.1 395.8 865.1 397.4 864.1 398.8 C863.1 400.3 862 401.8 860.8 403.2 C859.7 404.5 858.5 405.9 857.2 407.2 C856 408.5 854.7 409.7 853.3 410.9 C851.9 412.1 850.3 413.4 848.7 414.6 C847.1 415.8 845.5 416.9 843.8 417.9 C842.2 419 840.5 420 838.7 420.9 C837 421.8 835.3 422.6 833.5 423.4 C831.7 424.1 829.9 424.8 828.1 425.5 C826.3 426.1 824.4 426.6 822.6 427.1 C820.7 427.6 818.9 428 817 428.3 C815.1 428.6 813.3 428.8 811.4 429 C809.5 429.1 807.7 429.2 805.8 429.2 C804 429.2 802.2 429.1 800.3 428.9 C798.5 428.8 796.7 428.5 794.9 428.2 C793.2 427.9 791.4 427.5 789.7 427 C788 426.5 786.3 426 784.6 425.3 C783 424.7 781.4 424 779.8 423.2 C778.3 422.5 776.7 421.6 775.3 420.7 C773.8 419.8 772.4 418.8 771 417.7 C769.6 416.7 768.3 415.5 767.1 414.4 C765.8 413.2 764.6 411.9 763.5 410.6Z"/>
</g>
<!-- shrimp 1 (back) -->
<g id="shrimp1">
<path class="s" d="M574.4 315.6 L561.1 312.2 L568.2 303.8 L563.3 292.2 L576.2 296.2 L575.6 284.4 L583.8 290.4 L595.6 286 L596 297.8"/>
<path class="s" d="M596 297.8 C597.6 299.8 602.1 305 605.6 310 C609.1 315 613.6 322.3 616.7 327.8 C619.9 333.3 622.5 338.3 624.5 343 C626.5 347.7 627.5 351.8 628.5 356 C629.5 360.2 630.1 364 630.4 368 C630.6 372 630.1 378 630 380"/>
<path class="s" d="M574.4 315.6 C576.3 317.6 582.3 323.6 585.6 327.8 C588.9 332.1 592.2 337.8 594.4 341.1 C596.6 344.4 597.8 345.4 598.9 347.8 C600 350.2 600.7 354.3 601.1 355.6"/>
<path class="s" d="M596 337.8 C597.3 336.8 600.9 333 604 331.5 C607.1 330 612.7 329.3 614.4 328.9"/>
<path class="s" d="M588.9 387.8 C590 389.1 593.8 392.7 595.6 395.6 C597.4 398.5 598.8 402.1 599.5 405 C600.2 407.9 600.5 409.9 600 413 C599.5 416.1 597.2 421.6 596.7 423.3"/>
<path class="s" d="M565.8 436.7 C568.2 436.5 574.9 436.6 580 435.5 C585.1 434.4 592.2 432.1 596.7 430 C601.2 427.9 604.2 425.2 607 423 C609.8 420.8 611.1 419.4 613.3 416.7 C615.5 414 618.9 408.4 620 406.7"/>
</g>
<!-- lobster 1 (back) -->
<g id="lobster1">
<path class="s" d="M523.3 308 C523.9 309.4 525.7 314.1 526.7 316.7 C527.7 319.2 528.8 322.2 529.2 323.3"/>
<path class="s" d="M537.5 306 C537.9 307.8 539.3 313.8 539.7 316.7 C540.1 319.6 540 322.2 540 323.3"/>
<path class="s" d="M481 317.2 C479.8 317.5 476.1 318.2 474 319 C471.9 319.8 470.1 320.5 468.3 321.7 C466.6 322.9 464.3 325.3 463.5 326"/>
<path class="s" d="M459 343.5 C459.2 344.3 459.8 346.3 460.5 348.5 C461.2 350.7 462 353.7 463.3 356.7 C464.6 359.7 466.6 363.7 468.3 366.7 C470 369.7 471.4 371.7 473.3 374.5 C475.2 377.3 477.6 380.2 480 383.5 C482.4 386.8 486.7 392.7 488 394.5"/>
<path class="s" d="M497.5 317 C498.4 317.4 500.9 318.2 503 319.5 C505.1 320.8 507.4 322.7 510 325 C512.5 327.3 516.9 331.9 518.3 333.3"/>
<path class="s" d="M443.3 370 C444.9 370.4 449.9 371.5 453 372.5 C456.1 373.5 457.8 374.1 462 376 C466.2 377.9 475.3 382.7 478 384"/>
<path class="s" d="M438.3 379.2 C439.9 379.5 444.7 380.1 448 381 C451.3 381.9 454.3 383 458 384.5 C461.7 386 468 389.1 470 390"/>
<path class="wt" d="M414.2 375.8 C415.7 375.4 419.3 373.8 423.3 373.3 C427.3 372.8 434.9 373.3 438.3 373 C441.8 372.7 443.1 371.8 444 371.5 L444 371.5 C443.1 372.5 440.6 376.1 438.3 377.5 C436 378.9 432.8 379.7 430 380 C427.2 380.3 424.3 379.9 421.7 379.2 C419.1 378.5 415.4 376.4 414.2 375.8"/>
<path class="w" d="M401.4 324.8 C400.6 325.4 398.1 326.7 396.8 328.7 C395.5 330.7 393.8 334 393.3 337 C392.8 340 393.3 343.2 394 346.7 C394.7 350.2 395.8 354.3 397.5 357.8 C399.2 361.3 401.8 364.8 404.4 367.6 C406.9 370.4 410 373.1 412.8 374.5 C415.6 375.9 417.9 375.9 421.1 375.9 C424.3 375.9 428.8 375 432 374.5 C435.2 374 438.5 374.2 440.6 373.1 C442.7 372 444 370.2 444.7 367.6 C445.4 365.1 445.4 361.3 444.7 357.8 C444 354.3 442.5 350.4 440.6 346.7 C438.8 343 436.2 338.8 433.6 335.6 C431.1 332.4 428.3 329.4 425.3 327.3 C422.3 325.2 418.6 323.6 415.6 322.8 C412.6 322 408.6 322.5 407.2 322.4 L407.2 322.4 C408.1 323.9 411.2 328.3 412.8 331.4 C414.4 334.5 415.9 337.7 416.9 341.2 C417.9 344.7 418.6 350.4 419 352.3 L419 352.3 C418.2 351.8 416.1 351 414.2 349.5 C412.3 348 409.8 345.9 407.9 343.3 C406 340.8 404.2 337.3 403.1 334.2 C402 331.1 401.7 326.4 401.4 324.8Z"/>
<path class="w" d="M493.3 255.4 C494 255 495.8 253.5 497.5 252.9 C499.2 252.3 501.2 251.8 503.3 251.7 C505.4 251.6 507.5 251.7 510 252.5 C512.5 253.3 515.5 254.9 518.3 256.7 C521.1 258.5 524.2 260.8 526.7 263.3 C529.2 265.8 531.4 268.6 533.3 271.7 C535.2 274.8 537.2 278.4 538.3 281.7 C539.4 285 540 288.6 540 291.7 C540 294.8 539.4 297.6 538.3 300 C537.2 302.4 535.2 304.4 533.3 305.8 C531.4 307.2 529.2 308.2 526.7 308.3 C524.2 308.4 521.1 307.9 518.3 306.7 C515.5 305.4 512.8 303 510 300.8 C507.2 298.6 504.2 296.2 501.7 293.3 C499.2 290.4 496.8 286.6 495 283.3 C493.2 280 491.7 276.2 490.8 273.3 C489.9 270.4 489.4 268.2 489.4 265.8 C489.4 263.4 490.6 260 490.8 258.8 L490.8 258.8 C491.8 260 494.9 263.5 496.7 265.8 C498.5 268.1 499.8 270.6 501.7 272.5 C503.6 274.4 506.1 276.2 508.3 277.5 C510.5 278.8 513.6 279.6 514.6 280 L514.6 280 C514.1 278.5 513.2 273.4 511.7 270.8 C510.2 268.2 508.2 266.5 505.8 264.2 C503.4 261.9 499.6 258.4 497.5 256.9 C495.4 255.4 494 255.7 493.3 255.4Z"/>
<path class="wt" d="M477.2 238.6 C476.3 240.8 473.2 246.2 471.7 251.7 C470.2 257.2 468.3 264.8 468 271.7 C467.7 278.6 468.7 287.2 470 293.3 C471.3 299.4 473.9 304.1 475.8 308.3 C477.7 312.5 480.6 316.9 481.5 318.6 L484.4 316.6 C483.5 315 480.9 310.9 479.2 306.7 C477.4 302.5 475.1 297.5 473.9 291.7 C472.7 285.9 471.9 278.4 472.2 271.7 C472.5 265 474.4 257.1 475.8 251.7 C477.2 246.2 479.8 241.1 480.6 239Z"/>
<path class="wt" d="M388 304.2 C390 303.7 395.2 301.6 400 301.3 C404.8 301 410.9 301.2 416.7 302.5 C422.5 303.8 429.2 306.6 435 309.2 C440.8 311.8 447 315.4 451.7 318.3 C456.4 321.2 460.8 324.8 463.3 326.7 C465.9 328.6 466.4 329.1 467 329.6 L464.3 331.8 C462.5 330.4 457.6 326.2 453.3 323.3 C449 320.4 443.6 316.8 438.3 314.2 C433 311.6 427.2 309 421.7 307.5 C416.1 306 410.6 305.6 405 305 C399.4 304.4 390.8 304.3 388 304.2Z"/>
<path class="s" d="M464.5 331 L461 337.2"/>
<ellipse class="w" cx="458" cy="340" rx="5" ry="3.3" transform="rotate(0 458 340)"/>
<path class="s" d="M483.5 317.6 L487.5 316.5"/>
<ellipse class="w" cx="492" cy="315" rx="5" ry="3.5" transform="rotate(-40 492 315)"/>
</g>
<!-- lobster 2 (front, curled) -->
<g id="lobster2">
<path d="M620 368.9 C621.9 371.1 627.2 376.7 631.1 382.2 C635 387.7 639.7 395.1 643.3 401.7 C646.9 408.2 650.4 415.1 652.5 421.5 C654.6 427.9 655.4 434.4 655.8 440 C656.2 445.6 655.5 450.6 655 455 C654.5 459.4 654.5 461.4 652.5 466.7 C650.5 472 647 481.1 643.3 486.7 C639.5 492.2 635 496.4 630 500 C625 503.6 618.8 506.4 613.3 508.3 C607.8 510.2 602.2 511.1 596.7 511.7 C591.2 512.3 585.6 512.3 580 511.7 C574.4 511.1 566.1 508.9 563.3 508.3 L570 438.3 C571.7 440.5 576.1 448.5 580 451.7 C583.9 454.9 588.6 456.7 593.3 457.5 C598 458.3 603.8 458.2 608.3 456.7 C612.8 455.2 617.1 451.6 620 448.3 C622.9 445 624.8 440 625.8 436.7 C626.8 433.4 626.3 431.9 625.8 428.3 C625.2 424.7 624.6 419.4 622.5 415 C620.4 410.6 616.8 406.1 613.3 401.7 C609.8 397.2 605.6 391.6 601.7 388.3 C597.8 385 592 383.1 590 382 L592.2 375.6 L589.4 363.9 L600.6 367.8 L601.1 355.6 L610 360.6 L620.6 356.7 Z" fill="#fff" stroke="none"/>
<path class="s" d="M592.2 375.6 C591.8 376.3 591.7 378.5 590 380 C588.3 381.5 585.4 383.3 582.2 384.4 C579.1 385.5 574.1 386.7 571.1 386.7 C568.1 386.7 565.5 384.8 564.4 384.4"/>
<path class="s" d="M592.2 375.6 L589.4 363.9 L600.6 367.8 L601.1 355.6 L610 360.6 L620.6 356.7 L620 368.9"/>
<path class="s" d="M620 368.9 C621.9 371.1 627.2 376.7 631.1 382.2 C635 387.7 639.7 395.1 643.3 401.7 C646.9 408.2 650.4 415.1 652.5 421.5 C654.6 427.9 655.4 434.4 655.8 440 C656.2 445.6 655.5 450.6 655 455 C654.5 459.4 654.5 461.4 652.5 466.7 C650.5 472 647 481.1 643.3 486.7 C639.5 492.2 635 496.4 630 500 C625 503.6 618.8 506.4 613.3 508.3 C607.8 510.2 602.2 511.1 596.7 511.7 C591.2 512.3 585.6 512.3 580 511.7 C574.4 511.1 566.1 508.9 563.3 508.3"/>
<path class="s" d="M585.6 384.4 C588.2 385 596.5 384.9 601.1 387.8 C605.7 390.7 609.7 397.2 613.3 401.7 C616.9 406.2 620.4 410.6 622.5 415 C624.6 419.4 625.2 424.7 625.8 428.3 C626.3 431.9 626.8 433.4 625.8 436.7 C624.8 440 622.9 445 620 448.3 C617.1 451.6 612.8 455.2 608.3 456.7 C603.8 458.2 598 458.3 593.3 457.5 C588.6 456.7 583.9 454.9 580 451.7 C576.1 448.5 574.7 444.1 570 438.3 C565.3 432.5 558.4 424.5 551.7 416.7 C545 408.9 534.8 396.9 530 391.7 C525.2 386.5 524.2 386.5 523 385.5"/>
<path class="s" d="M620.8 409.2 C622 408.2 625.2 404.7 628.3 403.3 C631.4 401.9 637.4 401.2 639.2 400.8"/>
<path class="s" d="M629.2 437.5 C631 437.4 636.5 435.9 640 436.7 C643.5 437.5 648.3 441.5 650 442.5"/>
<path class="s" d="M615 459.2 C616.4 461.3 621.5 467.4 623.3 471.7 C625.1 476 625.9 481 625.8 485 C625.7 489 623 494 622.5 495.8"/>
<path class="s" d="M585.8 462.5 C586.4 464.3 588.8 469.6 589.2 473.3 C589.6 477.1 589.5 481.1 588.3 485 C587 488.9 585.3 493.2 581.7 496.7 C578.1 500.2 569.2 504.3 566.7 505.8"/>
<path class="s" d="M565.8 440.8 C565.8 442.6 566.5 448.2 565.8 451.7 C565.1 455.2 563.1 459.3 561.7 461.7 C560.3 464.1 558.2 465.1 557.5 465.8"/>
<path class="s" d="M551.7 383.3 C552.2 385.5 555 391.7 555 396.7 C555 401.7 552.2 410.5 551.7 413.3"/>
<path class="s" d="M563.3 381.7 C563.2 384.8 563.6 393.3 562.5 400 C561.4 406.7 557.7 418.1 556.7 421.7"/>
<path class="s" d="M538.3 380 L533.3 390"/>
<path class="w" d="M519.2 326.8 C520 326.3 522.3 324.4 524.2 323.8 C526.1 323.2 528.3 322.9 530.8 323.2 C533.3 323.4 536.4 324.2 539.2 325.3 C542 326.4 544.9 328.1 547.5 330 C550.1 331.9 552.7 334.1 555 336.5 C557.3 338.9 559.8 341.4 561.5 344.5 C563.2 347.6 564.6 351.4 565.2 355 C565.8 358.6 566 362.4 565 366 C564 369.6 561.6 374.3 558.9 376.7 C556.2 379.1 552.1 380.5 549 380.5 C545.9 380.5 543.2 378.4 540 376.7 C536.8 374.9 532.9 372.4 530 370 C527.1 367.6 524.7 364.8 522.5 362 C520.3 359.2 518.2 356.2 516.9 353 C515.6 349.8 514.9 345.8 514.6 343 C514.3 340.2 514.9 338 515.3 336.3 C515.6 334.6 516.5 333.6 516.7 333 L516.7 333 C517.7 334.1 520.4 337.6 522.5 339.7 C524.6 341.8 527.1 343.9 529.2 345.5 C531.3 347.1 533.1 348.3 535 349.3 C536.9 350.3 539.5 351 540.4 351.3 L540.4 351.3 C539.9 349.9 539 345.6 537.5 343 C536 340.4 533.8 337.7 531.7 335.5 C529.6 333.3 527.1 331.1 525 329.7 C522.9 328.2 520.2 327.3 519.2 326.8Z"/>
<path class="t" d="M528.3 334.7 L527.1 341.8 M535 342.2 L533.8 346.8"/>
<path class="s" d="M491.7 400.6 C492.7 399.2 495.4 394.4 497.8 392.4 C500.2 390.3 504.6 389 506 388.3"/>
<path class="s" d="M484.6 415.8 C485.1 418 485.7 424.5 487.6 429.1 C489.5 433.7 492.7 439.2 495.8 443.3 C498.9 447.4 504.3 451.8 506 453.5"/>
<path class="s" d="M470.3 439.3 C471.1 440.3 473.1 443.6 475 445.5 C476.9 447.4 478.7 449.4 481.5 450.5 C484.3 451.6 488.3 451.7 492 452 C495.7 452.3 501.9 452.4 503.9 452.5"/>
<path class="s" d="M465.2 448.4 C465.9 449.1 468 451 469.5 452.5 C471 454 473.6 456.8 474.4 457.6"/>
<path class="w" d="M426.7 396.8 C425.9 397.6 423.1 399.5 421.8 401.7 C420.5 403.9 419.1 406.8 419 410 C418.9 413.2 419.8 417.4 421.1 421.1 C422.4 424.8 424.4 428.7 426.7 432.2 C429 435.7 432 439.1 435 441.9 C438 444.7 441.5 447.3 444.7 448.9 C447.9 450.5 451.4 451.5 454.4 451.7 C457.4 451.9 460.5 451.5 462.8 450.3 C465.1 449.1 467 447.2 468.3 444.7 C469.6 442.1 470.4 438.2 470.4 435 C470.4 431.8 469.6 428.8 468.3 425.3 C467 421.8 465.1 417.7 462.8 414.2 C460.5 410.7 457.4 407.2 454.4 404.4 C451.4 401.6 447.7 399.2 444.7 397.5 C441.7 395.8 438.7 394.9 436.4 394.4 C434.1 393.9 431.7 394.4 430.8 394.4 L430.8 394.4 C431.9 395.6 435.2 398.9 437.1 401.7 C439 404.5 440.8 407.8 441.9 411.4 C443 415 443.6 421.2 444 423.2 L444 423.2 C443.2 422.7 440.9 421.8 439.2 420.4 C437.5 419 435.3 417.3 433.6 414.9 C431.9 412.5 430 408.8 428.8 405.8 C427.6 402.8 427.1 398.3 426.7 396.8Z"/>
<path class="wt" d="M413.2 376.1 C415.4 375.7 421.2 373.7 426.5 373.7 C431.8 373.7 439 374.7 444.8 376.1 C450.6 377.5 455.7 379.5 461.1 382.2 C466.5 384.9 472.4 389.4 477.4 392.4 C482.4 395.4 488.7 399 491 400.3 L488 403.8 C485.9 402.4 479.9 398.2 475.4 395.5 C470.9 392.8 466.2 389.9 461.1 387.3 C456 384.8 450.6 381.7 444.8 380.2 C439 378.7 431.8 378.8 426.5 378.1 C421.2 377.4 415.4 376.4 413.2 376.1Z"/>
<path class="wt" d="M504.7 310 C503.6 311.7 499.9 315.6 498.3 320 C496.7 324.4 495.4 330.6 495 336.7 C494.6 342.8 494.8 350.6 495.8 356.7 C496.8 362.8 499.1 368.5 500.8 373.3 C502.5 378.1 505 383.3 505.8 385.3 L509.4 383.5 C508.5 381.5 505.8 376.2 504.2 371.7 C502.6 367.2 500.6 362.3 499.7 356.7 C498.8 351.1 498.5 344.1 498.7 338.3 C498.9 332.5 499.8 326.4 500.8 321.7 C501.8 317 504.1 311.9 504.7 310Z"/>
<path class="s" d="M489.5 402.5 L486.5 408"/>
<ellipse class="w" cx="483.9" cy="411.4" rx="5.5" ry="3.5" transform="rotate(0 483.9 411.4)"/>
<path class="s" d="M508 384.5 L513 383.8"/>
<ellipse class="w" cx="518.3" cy="383.3" rx="5" ry="3.5" transform="rotate(-40 518.3 383.3)"/>
</g>
<!-- lemons -->
<g id="lemons">
<path class="w" d="M421.4 467.3 H504.2 A41.4 42.5 0 0 1 421.4 467.3 Z"/>
<path class="s" d="M472.6 475.2 L496.6 475.2 L492.1 489.3 Z"/>
<path class="s" d="M468.9 480.4 L488.3 494.5 L476.3 503.2 Z"/>
<path class="s" d="M462.8 482.4 L470.2 505.2 L455.4 505.2 Z"/>
<path class="s" d="M456.7 480.4 L449.3 503.2 L437.3 494.5 Z"/>
<path class="s" d="M453 475.2 L433.5 489.3 L429 475.2 Z"/>
<path class="w" d="M473.8 456.5 H557 A41.6 42.7 0 0 1 473.8 456.5 Z"/>
<path class="s" d="M525.2 464.4 L549.4 464.4 L544.8 478.6 Z"/>
<path class="s" d="M521.5 469.6 L541.1 483.8 L529 492.6 Z"/>
<path class="s" d="M515.4 471.6 L522.9 494.6 L507.9 494.6 Z"/>
<path class="s" d="M509.3 469.6 L501.8 492.6 L489.7 483.8 Z"/>
<path class="s" d="M505.6 464.4 L486 478.6 L481.4 464.4 Z"/>
<path class="w" d="M498.1 467.3 H581.3 A41.6 42.7 0 0 1 498.1 467.3 Z"/>
<path class="s" d="M549.5 475.2 L573.7 475.2 L569.1 489.4 Z"/>
<path class="s" d="M545.8 480.4 L565.4 494.6 L553.3 503.4 Z"/>
<path class="s" d="M539.7 482.4 L547.2 505.4 L532.2 505.4 Z"/>
<path class="s" d="M533.6 480.4 L526.1 503.4 L514 494.6 Z"/>
<path class="s" d="M529.9 475.2 L510.3 489.4 L505.7 475.2 Z"/>
</g>
<!-- dice -->
<g id="dice">
<g transform="translate(953.8 70.8) rotate(46)"><rect class="w" x="-28.2" y="-28.2" width="56.5" height="56.5" rx="6.5" ry="6.5"/></g>
<circle class="s" cx="945.8" cy="63" r="5.3"/>
<circle class="s" cx="961.8" cy="78.8" r="5.3"/>
<g transform="translate(952.9 183.9) rotate(22)"><rect class="w" x="-28.2" y="-28.2" width="56.4" height="56.4" rx="6.5" ry="6.5"/></g>
<circle class="s" cx="952.7" cy="184.2" r="10.2"/>
<g transform="translate(959 287.7) rotate(11.5)"><rect class="w" x="-28.5" y="-28.5" width="57" height="57" rx="6.5" ry="6.5"/></g>
<circle class="s" cx="940.8" cy="300" r="5.1"/>
<circle class="s" cx="958.8" cy="287.2" r="5.1"/>
<circle class="s" cx="977" cy="275" r="5.1"/>
<g transform="translate(958.9 405.2) rotate(9)"><rect class="w" x="-28.1" y="-28.1" width="56.2" height="56.2" rx="6.5" ry="6.5"/></g>
<circle class="k" cx="952.8" cy="389" r="6"/>
<circle class="k" cx="969.2" cy="391.5" r="6"/>
<circle class="k" cx="950.3" cy="403.5" r="6"/>
<circle class="k" cx="967" cy="406.3" r="6"/>
<circle class="k" cx="948.1" cy="418.2" r="6"/>
<circle class="k" cx="964.4" cy="420.8" r="6"/>
<g transform="translate(904.5 482.8) rotate(17)"><rect class="w" x="-27.9" y="-27.9" width="55.8" height="55.8" rx="6.5" ry="6.5"/></g>
<circle class="k" cx="894.5" cy="463.3" r="6.3"/>
<circle class="k" cx="924.2" cy="472.5" r="6.3"/>
<circle class="k" cx="904.7" cy="482.8" r="6.3"/>
<circle class="k" cx="885.5" cy="493.3" r="6.3"/>
<circle class="k" cx="915.5" cy="502" r="6.3"/>
<g transform="translate(963 488.8) rotate(5.5)"><rect class="w" x="-27.5" y="-27.5" width="55" height="55" rx="6.5" ry="6.5"/></g>
<circle class="k" cx="952.8" cy="477.1" r="6.8"/>
<circle class="k" cx="975.5" cy="479" r="6.8"/>
<circle class="k" cx="951.2" cy="498.5" r="6.8"/>
<circle class="k" cx="973.9" cy="500.7" r="6.8"/>
</g>
</svg>
</body>
</html>
